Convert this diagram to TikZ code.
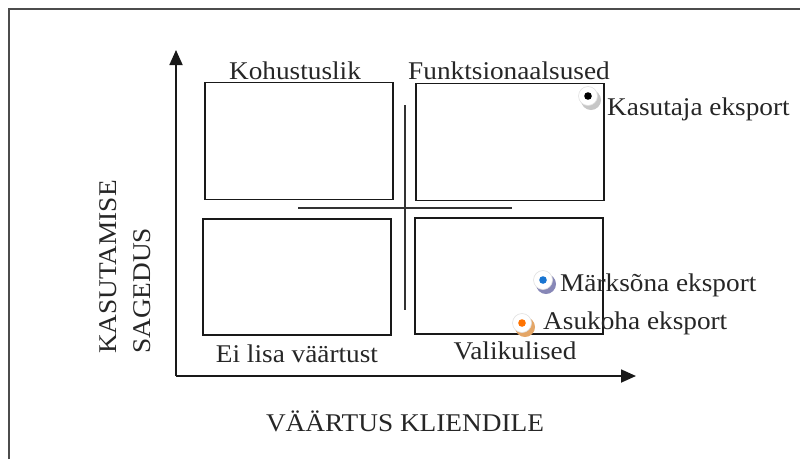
\documentclass[tikz,border=0pt]{standalone}
\usepackage{fontspec}
\setmainfont[FakeStretch=1.07]{Liberation Serif}
\usetikzlibrary{arrows.meta}
\begin{document}
\begin{tikzpicture}[x=1pt,y=-1pt,
  quad/.style={draw=black!90,line width=1.8pt},
  axis/.style={draw=black!90,line width=1.8pt,-{Triangle[length=15pt,width=13pt]}},
  lbl/.style={font=\fontsize{25.5}{30}\selectfont,inner sep=0pt,text=black!85},
  dotring/.style={fill=white,draw=gray!25,line width=0.6pt}]
\useasboundingbox (0,0) rectangle (800,459);
% outer frame
\draw[gray!60!black,line width=2.2pt] (9,459) -- (9,9) -- (800,9);
% axes
\coordinate (o) at (176,376);
\coordinate (ytip) at (176,50);
\coordinate (xtip) at (636,376);
\draw[axis] (o) -- (ytip);
\draw[axis] (o) -- (xtip);
% quadrant boxes
\node[quad,minimum width=188pt,minimum height=117pt,inner sep=0pt] (tl) at (299,141) {};
\node[quad,minimum width=188pt,minimum height=117pt,inner sep=0pt] (tr) at (510,142) {};
\node[quad,minimum width=188pt,minimum height=116pt,inner sep=0pt] (bl) at (297,277) {};
\node[quad,minimum width=188pt,minimum height=116pt,inner sep=0pt] (br) at (509,276) {};
% cross
\coordinate (cv1) at (405,105);
\coordinate (cv2) at (405,310);
\coordinate (ch1) at (298,208);
\coordinate (ch2) at (512,208);
\draw[black!80,line width=1.6pt] (cv1) -- (cv2);
\draw[black!80,line width=1.6pt] (ch1) -- (ch2);
% quadrant labels
\node[lbl] (lkoh) at (295,71) {Kohustuslik};
\node[lbl] (lfun) at (509,71) {Funktsionaalsused};
\node[lbl] (lei) at (297,354) {Ei lisa väärtust};
\node[lbl] (lval) at (515,351) {Valikulised};
% axis labels
\node[lbl,anchor=base] (xl) at (405,431) {VÄÄRTUS KLIENDILE};
\node[lbl,rotate=90,anchor=west] (yl1) at (108,354) {KASUTAMISE};
\node[lbl,rotate=90,anchor=west] (yl2) at (142,354) {SAGEDUS};
% markers
\fill[gray!45] (591,100) circle (10pt);
\filldraw[dotring] (588,96) circle (9.5pt);
\fill[black] (588,96) circle (3.8pt);
\node[lbl,anchor=base west] (kas) at (607,115) {Kasutaja eksport};

\fill[blue!25!gray!75] (546,284) circle (10pt);
\filldraw[dotring] (543,280) circle (9.5pt);
\fill[blue!50!cyan!80!black!90] (543,280) circle (3.8pt);
\node[lbl,anchor=base west] (mar) at (560,291) {Märksõna eksport};

\fill[brown!60!orange!70] (525,327) circle (10pt);
\filldraw[dotring] (522,323) circle (9.5pt);
\fill[orange!90!red] (522,323) circle (3.8pt);
\node[lbl,anchor=base west] (asu) at (543,329) {Asukoha eksport};
\end{tikzpicture}
\end{document}
